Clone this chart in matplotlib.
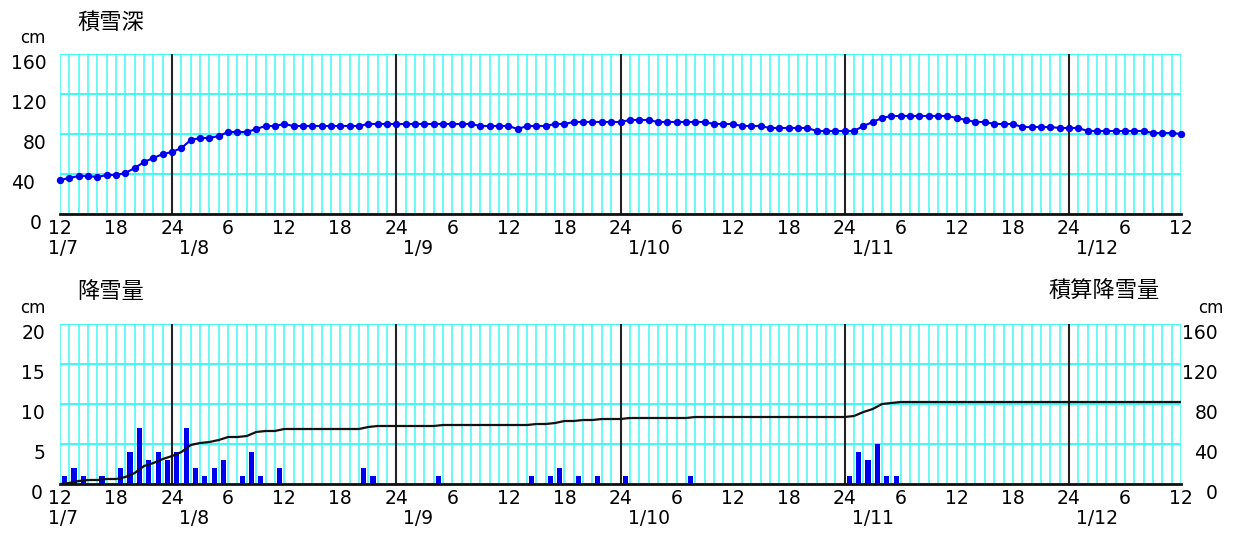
import numpy as np
import matplotlib.pyplot as plt

# 1/7 12時 〜 1/12 12時, 1時間ごと (0 = 1/7 12:00)
hours = np.arange(0, 121)

# 積雪深 (cm)
snow_depth = [34, 36, 38, 38, 37, 39, 39, 41, 46, 52, 56, 60, 62,
              66, 74, 76, 76, 78, 82, 82, 82, 85, 88, 88, 90,
              88, 88, 88, 88, 88, 88, 88, 88, 90, 90, 90, 90,
              90, 90, 90, 90, 90, 90, 90, 90, 88, 88, 88, 88,
              85, 88, 88, 88, 90, 90, 92, 92, 92, 92, 92, 92,
              94, 94, 94, 92, 92, 92, 92, 92, 92, 90, 90, 90,
              88, 88, 88, 86, 86, 86, 86, 86, 83, 83, 83, 83,
              83, 88, 92, 96, 98, 98, 98, 98, 98, 98, 98, 96,
              94, 92, 92, 90, 90, 90, 87, 87, 87, 87, 86, 86,
              86, 83, 83, 83, 83, 83, 83, 83, 81, 81, 81, 80]

# 降雪量 (cm), 時刻は毎正時までの1時間
snowfall_hours = [1, 2, 3, 5, 7, 8, 9, 10, 11, 12, 13, 14, 15, 16, 17, 18, 20, 21, 22, 24,
                  33, 34, 41, 51, 53, 54, 56, 58, 61, 68, 85, 86, 87, 88, 89, 90]
snowfall = [1, 2, 1, 1, 2, 4, 7, 3, 4, 3, 4, 7, 2, 1, 2, 3, 1, 4, 1, 2,
            2, 1, 1, 1, 1, 2, 1, 1, 1, 1, 1, 4, 3, 5, 1, 1]

# 積算降雪量 (cm)
cumulative = [0, 1, 3, 4, 4, 5, 5, 7, 11, 18, 21, 25, 28,
              32, 39, 41, 42, 44, 47, 47, 48, 52, 53, 53, 55,
              55, 55, 55, 55, 55, 55, 55, 55, 57, 58, 58, 58,
              58, 58, 58, 58, 59, 59, 59, 59, 59, 59, 59, 59,
              59, 59, 60, 60, 61, 63, 63, 64, 64, 65, 65, 65,
              66, 66, 66, 66, 66, 66, 66, 67, 67, 67, 67, 67,
              67, 67, 67, 67, 67, 67, 67, 67, 67, 67, 67, 67,
              68, 72, 75, 80, 81, 82, 82, 82, 82, 82, 82, 82,
              82, 82, 82, 82, 82, 82, 82, 82, 82, 82, 82, 82,
              82, 82, 82, 82, 82, 82, 82, 82, 82, 82, 82, 82]

tick_hours = np.arange(0, 121, 6)
tick_labels = ["12", "18", "24", "6"] * 5 + ["12"]
midnights = [12, 36, 60, 84, 108]
date_labels = ["1/7", "1/8", "1/9", "1/10", "1/11", "1/12"]
date_hours = [0] + midnights
date_dx = [-12, 7, 7, 7, 7, 7]

cyan = "#3ff8f8"
blue = "#0000f0"
jp = ["Noto Sans CJK JP", "DejaVu Sans"]
fs = 13.5

fig = plt.figure(figsize=(12.36, 5.37), dpi=100)
ax_top = fig.add_axes([60 / 1236, 1 - 214 / 537, 1121 / 1236, 160 / 537])
ax_bot = fig.add_axes([60 / 1236, 1 - 484 / 537, 1121 / 1236, 160 / 537])


def setup(ax, ymax, ystep):
    ax.set_xlim(0, 120)
    ax.set_ylim(0, ymax)
    ax.set_xticks(tick_hours)
    ax.set_xticklabels(tick_labels, fontsize=fs)
    ax.set_xticks(hours, minor=True)
    ax.set_yticks(np.arange(0, ymax + 1, ystep))
    ax.tick_params(which="both", length=0, pad=3.5, labelleft=False)
    ax.set_axisbelow(True)
    ax.grid(True, which="both", axis="x", color=cyan, lw=1.1)
    ax.grid(True, which="major", axis="y", color=cyan, lw=1.4)
    for s in ["top", "left", "right"]:
        ax.spines[s].set_visible(False)
    ax.spines["bottom"].set_linewidth(2)
    ax.spines["bottom"].set_color("#111111")
    for m in midnights:
        ax.axvline(m, color="#222222", lw=1.5, zorder=1)
    for lab, h, dx in zip(date_labels, date_hours, date_dx):
        ax.annotate(lab, xy=(h, 0), xycoords=("data", "axes fraction"),
                    xytext=(dx, -25), textcoords="offset pixels",
                    ha="left", va="top", fontsize=fs)


def ylabels(ax, values, dxs, x0, ha):
    for v, dx in zip(values, dxs):
        ax.annotate(str(v), xy=(x0, v), xycoords=("axes fraction", "data"),
                    xytext=(dx, 0), textcoords="offset pixels",
                    ha=ha, va="top", fontsize=fs)


# 積雪深
setup(ax_top, 160, 40)
ax_top.plot(hours, snow_depth, color=blue, lw=1.5, marker="o", ms=4.3,
            clip_on=False, zorder=3)
ylabels(ax_top, [0, 40, 80, 120, 160], [-18, -25, -13, -13, -13], 0, "right")
ax_top.annotate("cm", xy=(0, 1), xycoords="axes fraction", xytext=(-40, 7),
                textcoords="offset pixels", ha="left", va="bottom", fontsize=12)
ax_top.annotate("積雪深", xy=(0, 1), xycoords="axes fraction", xytext=(17, 32),
                textcoords="offset pixels", ha="left", va="center",
                fontsize=16, family=jp)

# 降雪量 / 積算降雪量
setup(ax_bot, 20, 5)
ax_bot.bar(np.array(snowfall_hours) - 0.5, snowfall, width=0.55, color=blue, zorder=2)
ylabels(ax_bot, [0, 5, 10, 15, 20], [-17, -15, -15, -15, -15], 0, "right")
ax_bot.annotate("cm", xy=(0, 1), xycoords="axes fraction", xytext=(-40, 7),
                textcoords="offset pixels", ha="left", va="bottom", fontsize=12)
ax_bot.annotate("降雪量", xy=(0, 1), xycoords="axes fraction", xytext=(17, 32),
                textcoords="offset pixels", ha="left", va="center",
                fontsize=16, family=jp)

ax_cum = ax_bot.twinx()
ax_cum.set_ylim(0, 160)
ax_cum.set_xlim(0, 120)
ax_cum.plot(hours, cumulative, color="#111111", lw=1.6, zorder=3)
ax_cum.set_yticks([])
for s in ax_cum.spines.values():
    s.set_visible(False)
ylabels(ax_cum, [0, 40, 80, 120, 160], [37, 37, 37, 37, 37], 1, "right")
ax_cum.annotate("cm", xy=(1, 1), xycoords="axes fraction", xytext=(17, 7),
                textcoords="offset pixels", ha="left", va="bottom", fontsize=12)
ax_cum.annotate("積算降雪量", xy=(1, 1), xycoords="axes fraction", xytext=(-21, 33),
                textcoords="offset pixels", ha="right", va="center",
                fontsize=16, family=jp)

fig.savefig("out.png", dpi=100)
